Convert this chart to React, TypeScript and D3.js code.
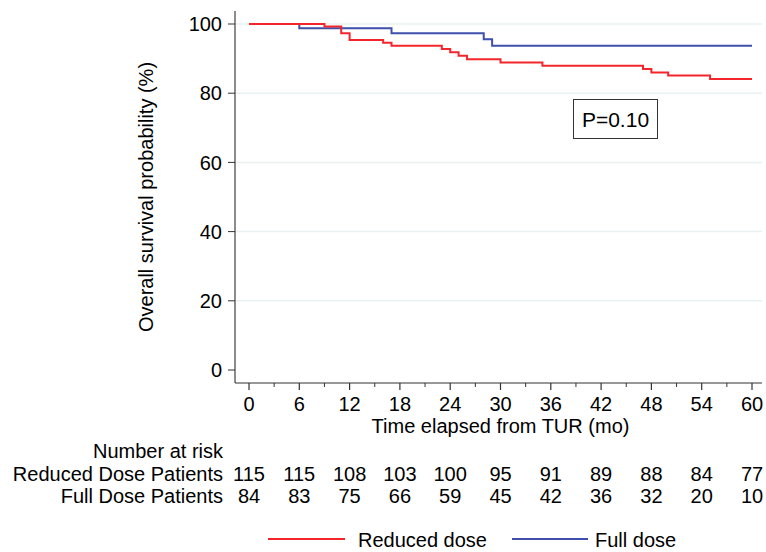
import * as d3 from "d3";
import React from "react";

// Kaplan-Meier steps (time in months, survival in %)
const reducedTimes = [0, 9, 11, 12, 16, 17, 23, 24, 25, 26, 30, 35, 47, 48, 50, 55, 60];
const reducedSurv = [100, 99.3, 97.3, 95.4, 94.6, 93.7, 92.8, 91.8, 90.8, 89.8, 88.9, 87.9, 87.0, 86.0, 85.1, 84.1, 84.1];
const fullTimes = [0, 6, 17, 28, 29, 60];
const fullSurv = [100, 98.8, 97.3, 95.6, 93.7, 93.7];

const riskTimes = [0, 6, 12, 18, 24, 30, 36, 42, 48, 54, 60];
const reducedAtRisk = [115, 115, 108, 103, 100, 95, 91, 89, 88, 84, 77];
const fullAtRisk = [84, 83, 75, 66, 59, 45, 42, 36, 32, 20, 10];

const yTicks = [0, 20, 40, 60, 80, 100];
const xMajor = [0, 6, 12, 18, 24, 30, 36, 42, 48, 54, 60];
const xMinor = [3, 9, 15, 21, 27, 33, 39, 45, 51, 57];

const RED = "#f2262b";
const BLUE = "#3f4fac";
const FONT = "'Liberation Sans', Arial, Helvetica, sans-serif";

export default function App() {
  const width = 766;
  const height = 552;

  const x = d3.scaleLinear().domain([0, 60]).range([249, 752]);
  const y = d3.scaleLinear().domain([0, 100]).range([370, 24]);
  const axisX = 235;
  const axisY = 383;

  const line = d3
    .line<[number, number]>()
    .x((d) => x(d[0]))
    .y((d) => y(d[1]))
    .curve(d3.curveStepAfter);

  const reduced = reducedTimes.map((t, i) => [t, reducedSurv[i]] as [number, number]);
  const full = fullTimes.map((t, i) => [t, fullSurv[i]] as [number, number]);

  return (
    <svg
      width={width}
      height={height}
      style={{ position: "absolute", left: 0, top: 0, background: "#fff" }}
      fontFamily={FONT}
    >
      {/* light gridlines */}
      {yTicks
        .filter((t) => t > 0)
        .map((t) => (
          <line key={"g" + t} x1={axisX} x2={762} y1={y(t)} y2={y(t)} stroke="#eaf1f2" strokeWidth={1.5} />
        ))}

      {/* y axis */}
      <line x1={axisX} x2={axisX} y1={11} y2={axisY} stroke="#666" strokeWidth={1.5} />
      {yTicks.map((t) => (
        <g key={"y" + t}>
          <line x1={axisX - 7} x2={axisX} y1={y(t)} y2={y(t)} stroke="#333" strokeWidth={1} />
          <text x={222} y={y(t)} dy="0.36em" textAnchor="end" fontSize={20}>
            {t}
          </text>
        </g>
      ))}
      <text
        transform={`translate(153,${y(50)}) rotate(-90)`}
        textAnchor="middle"
        fontSize={20}
      >
        Overall survival probability (%)
      </text>

      {/* x axis */}
      <line x1={axisX} x2={762} y1={axisY} y2={axisY} stroke="#333" strokeWidth={1.2} />
      {xMajor.map((t) => (
        <g key={"x" + t}>
          <line x1={x(t)} x2={x(t)} y1={axisY} y2={axisY + 7} stroke="#333" strokeWidth={1.2} />
          <text x={x(t)} y={411} textAnchor="middle" fontSize={20}>
            {t}
          </text>
        </g>
      ))}
      {xMinor.map((t) => (
        <line key={"m" + t} x1={x(t)} x2={x(t)} y1={axisY} y2={axisY + 4} stroke="#333" strokeWidth={1} />
      ))}
      <text x={x(30)} y={433} textAnchor="middle" fontSize={20}>
        Time elapsed from TUR (mo)
      </text>

      {/* survival curves */}
      <path d={line(full) ?? ""} fill="none" stroke={BLUE} strokeWidth={2} />
      <path d={line(reduced) ?? ""} fill="none" stroke={RED} strokeWidth={2} />

      {/* p-value box */}
      <rect x={573.5} y={99.5} width={84} height={39} fill="#fff" stroke="#333" strokeWidth={1} />
      <text x={615.5} y={127} textAnchor="middle" fontSize={21}>
        P=0.10
      </text>

      {/* number at risk table */}
      <text x={223} y={458} textAnchor="end" fontSize={20}>
        Number at risk
      </text>
      <text x={223} y={481} textAnchor="end" fontSize={20}>
        Reduced Dose Patients
      </text>
      <text x={223} y={503} textAnchor="end" fontSize={20}>
        Full Dose Patients
      </text>
      {riskTimes.map((t, i) => (
        <g key={"r" + t}>
          <text x={x(t)} y={481} textAnchor="middle" fontSize={20}>
            {reducedAtRisk[i]}
          </text>
          <text x={x(t)} y={503} textAnchor="middle" fontSize={20}>
            {fullAtRisk[i]}
          </text>
        </g>
      ))}

      {/* legend */}
      <line x1={268} x2={345} y1={539} y2={539} stroke={RED} strokeWidth={2} />
      <text x={358} y={547} fontSize={20}>
        Reduced dose
      </text>
      <line x1={512} x2={588} y1={539} y2={539} stroke={BLUE} strokeWidth={2} />
      <text x={595} y={547} fontSize={20}>
        Full dose
      </text>
    </svg>
  );
}
